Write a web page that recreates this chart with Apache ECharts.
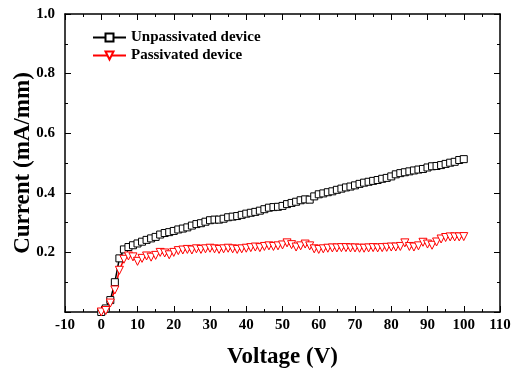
<!DOCTYPE html>
<html>
<head>
<meta charset="utf-8">
<script src="https://cdn.jsdelivr.net/npm/echarts@6/dist/echarts.min.js"></script>
<style>
  html, body { margin: 0; padding: 0; background: #fff; }
  #chart { width: 513px; height: 369px; }
</style>
</head>
<body>
<div id="chart"></div>
<script>
// voltage sweep (V)
const voltage = [
  0, 1.25, 2.5, 3.75, 5, 6.25, 7.5, 8.75, 10, 11.25, 12.5, 13.75, 15, 16.25, 17.5, 18.75,
  20, 21.25, 22.5, 23.75, 25, 26.25, 27.5, 28.75, 30, 31.25, 32.5, 33.75, 35, 36.25, 37.5, 38.75,
  40, 41.25, 42.5, 43.75, 45, 46.25, 47.5, 48.75, 50, 51.25, 52.5, 53.75, 55, 56.25, 57.5, 58.75,
  60, 61.25, 62.5, 63.75, 65, 66.25, 67.5, 68.75, 70, 71.25, 72.5, 73.75, 75, 76.25, 77.5, 78.75,
  80, 81.25, 82.5, 83.75, 85, 86.25, 87.5, 88.75, 90, 91.25, 92.5, 93.75, 95, 96.25, 97.5, 98.75, 100
];
// current (mA/mm)
const unpassivated = [
  0.0, 0.012, 0.04, 0.10, 0.18, 0.21, 0.218, 0.224, 0.23, 0.236, 0.242, 0.247, 0.252, 0.26, 0.265, 0.268,
  0.272, 0.277, 0.28, 0.284, 0.29, 0.295, 0.298, 0.303, 0.308, 0.31, 0.31, 0.313, 0.318, 0.32, 0.322, 0.326,
  0.33, 0.333, 0.336, 0.34, 0.345, 0.35, 0.352, 0.353, 0.356, 0.362, 0.366, 0.37, 0.375, 0.378, 0.377, 0.388,
  0.395, 0.398, 0.402, 0.405, 0.41, 0.414, 0.418, 0.421, 0.425, 0.43, 0.434, 0.437, 0.44, 0.443, 0.447, 0.45,
  0.455, 0.462, 0.466, 0.469, 0.472, 0.475, 0.478, 0.48, 0.485, 0.489, 0.49, 0.493, 0.497, 0.501, 0.504, 0.51, 0.513
];
const passivated = [
  0.0, 0.005, 0.03, 0.074, 0.14, 0.177, 0.188, 0.185, 0.17, 0.18, 0.188, 0.184, 0.19, 0.2, 0.198, 0.192,
  0.2, 0.206, 0.208, 0.21, 0.208, 0.212, 0.21, 0.212, 0.214, 0.212, 0.21, 0.212, 0.214, 0.212, 0.21, 0.212,
  0.214, 0.216, 0.218, 0.216, 0.22, 0.222, 0.22, 0.222, 0.225, 0.232, 0.226, 0.218, 0.222, 0.228, 0.222, 0.212,
  0.21, 0.212, 0.214, 0.215, 0.215, 0.216, 0.216, 0.215, 0.215, 0.214, 0.214, 0.215, 0.216, 0.215, 0.216, 0.217,
  0.218, 0.218, 0.22, 0.232, 0.22, 0.218, 0.222, 0.234, 0.228, 0.224, 0.235, 0.245, 0.25, 0.252, 0.252, 0.252, 0.253
];

const FONT = '"Liberation Serif", "Times New Roman", serif';
const pair = (ys) => voltage.map((v, i) => [v, ys[i]]);

const TICK = { show: true, inside: true, length: 6, lineStyle: { color: '#000', width: 1 } };
const MINOR = { show: true, splitNumber: 2, length: 3, lineStyle: { color: '#000', width: 1 } };
const LINE = { show: true, onZero: false, lineStyle: { color: '#000', width: 1.5 } };
const LABEL = { color: '#000', fontFamily: FONT, fontWeight: 'bold', fontSize: 15 };
const TITLE = { color: '#000', fontFamily: FONT, fontWeight: 'bold', fontSize: 23 };

const chart = echarts.init(document.getElementById('chart'), null, { renderer: 'canvas' });
chart.setOption({
  animation: false,
  backgroundColor: '#fff',
  grid: { left: 65, right: 13, top: 14, bottom: 57, outerBoundsMode: 'none' },
  legend: {
    left: 87, top: 25, orient: 'vertical', itemWidth: 33, itemHeight: 10, itemGap: 3,
    textStyle: { ...LABEL },
    data: ['Unpassivated device', 'Passivated device'],
  },
  xAxis: [
    {
      type: 'value', min: -10, max: 110, interval: 10,
      name: 'Voltage (V)', nameLocation: 'middle', nameGap: 34, nameTextStyle: TITLE,
      nameMoveOverlap: false,
      axisLine: LINE, axisTick: TICK, minorTick: MINOR, splitLine: { show: false },
      axisLabel: { ...LABEL, margin: 6 },
    },
    {
      type: 'value', position: 'top', min: -10, max: 110, interval: 10,
      axisLine: LINE, axisTick: TICK, minorTick: MINOR, splitLine: { show: false },
      axisLabel: { show: false },
    },
  ],
  yAxis: [
    {
      type: 'value', min: 0, max: 1.0, interval: 0.2,
      name: 'Current (mA/mm)', nameLocation: 'middle', nameGap: 30, nameTextStyle: TITLE,
      nameMoveOverlap: false,
      axisLine: LINE, axisTick: TICK, minorTick: MINOR, splitLine: { show: false },
      axisLabel: { ...LABEL, margin: 10, formatter: (v) => (v === 0 ? '' : v.toFixed(1)) },
    },
    {
      type: 'value', position: 'right', min: 0, max: 1.0, interval: 0.2,
      axisLine: LINE, axisTick: TICK, minorTick: MINOR, splitLine: { show: false },
      axisLabel: { show: false },
    },
  ],
  series: [
    {
      name: 'Unpassivated device', type: 'line', data: pair(unpassivated),
      symbol: 'rect', symbolSize: 7, showAllSymbol: true,
      lineStyle: { color: '#000', width: 1.5 },
      itemStyle: { color: '#fff', borderColor: '#000', borderWidth: 1 },
    },
    {
      name: 'Passivated device', type: 'line', data: pair(passivated),
      symbol: 'triangle', symbolRotate: 180, symbolSize: 8, showAllSymbol: true,
      lineStyle: { color: '#ff0000', width: 1.5 },
      itemStyle: { color: '#fff', borderColor: '#ff0000', borderWidth: 1 },
    },
  ],
});
</script>
</body>
</html>
